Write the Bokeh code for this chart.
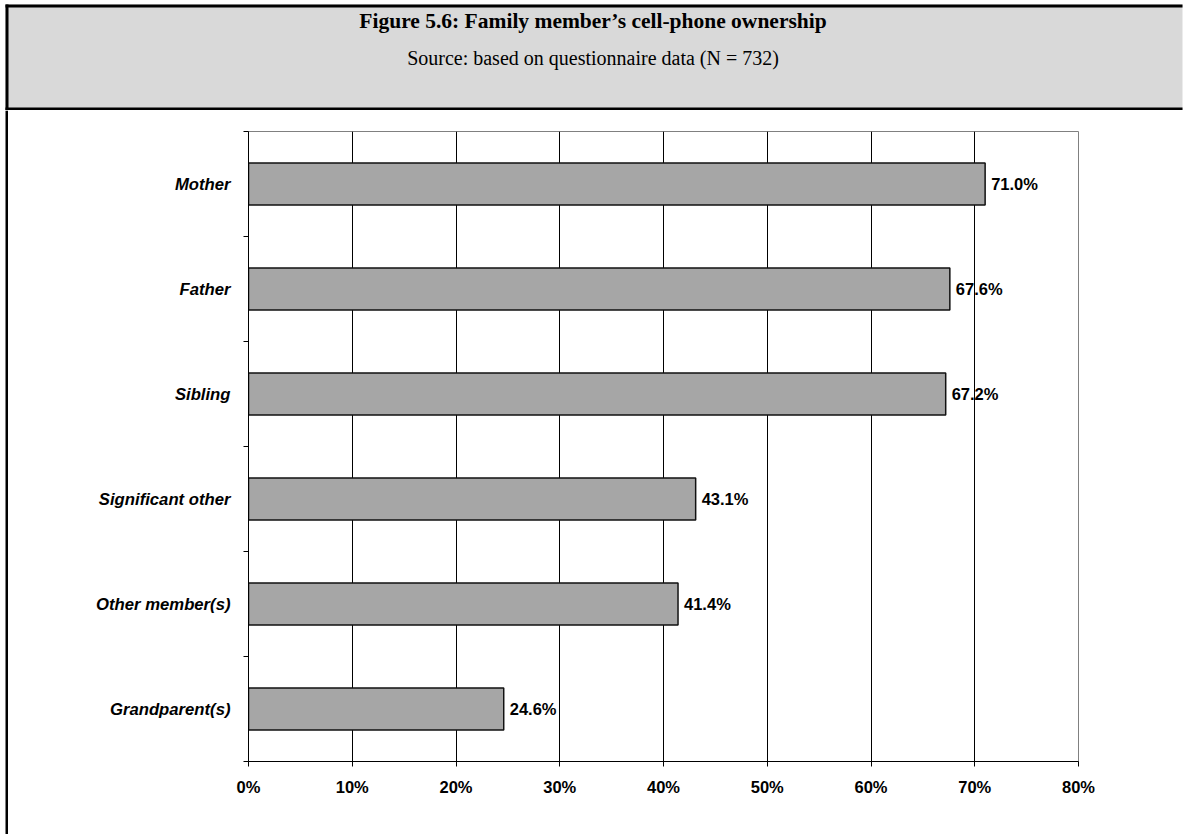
from bokeh.plotting import figure
from bokeh.models import Range1d, FixedTicker, ColumnDataSource, PrintfTickFormatter, LabelSet
from bokeh.layouts import column, row
from bokeh.core.properties import value
from bokeh.embed import file_html
from bokeh.resources import INLINE

# ---- data ----
categories = ["Mother", "Father", "Sibling", "Significant other", "Other member(s)", "Grandparent(s)"]
values = [71.0, 67.6, 67.2, 43.1, 41.4, 24.6]
x_ticks = [0, 10, 20, 30, 40, 50, 60, 70, 80]
title_text = "Figure 5.6: Family member\u2019s cell-phone ownership"
subtitle_text = "Source: based on questionnaire data (N = 732)"

# ---- layout constants ----
W, H = 1185, 834
HEAD_H = 110
SPACER_W = 8
SANS = "Liberation Sans"
SERIF = "Liberation Serif"
PANEL = "#d9d9d9"
EDGE = W - 3

n = len(categories)
ypos = [n - 0.5 - i for i in range(n)]
src = ColumnDataSource(dict(cat=categories, val=values, y=ypos,
                            lab=[f"{v:.1f}%" for v in values]))

# ---- header box ----
header = figure(width=W, height=HEAD_H, x_range=Range1d(0, W), y_range=Range1d(HEAD_H, 0),
                output_backend="svg", toolbar_location=None, x_axis_type=None, y_axis_type=None,
                min_border=0, min_border_left=0, min_border_right=0, min_border_top=0, min_border_bottom=0,
                frame_align=False)
header.outline_line_color = None
header.background_fill_color = "white"
header.border_fill_color = "white"
header.quad(left=[5], right=[EDGE], top=[4], bottom=[110], fill_color=PANEL, line_color=None)
header.quad(left=[5, 5, 5], right=[EDGE, EDGE, 8], top=[4, 107, 4], bottom=[7, 110, 110],
            fill_color="black", line_color=None)
header.text(x=[W / 2], y=[20], text=[title_text], text_font=value(SERIF), text_font_style="bold",
            text_font_size="21.5px", text_align="center", text_baseline="middle", text_color="black")
header.text(x=[W / 2], y=[57], text=[subtitle_text], text_font=value(SERIF),
            text_font_size="20px", text_align="center", text_baseline="middle", text_color="black")

# ---- left border continuation ----
spacer = figure(width=SPACER_W, height=H - HEAD_H, x_range=Range1d(0, SPACER_W),
                y_range=Range1d(0, H - HEAD_H), output_backend="svg", toolbar_location=None,
                x_axis_type=None, y_axis_type=None,
                min_border=0, min_border_left=0, min_border_right=0, min_border_top=0, min_border_bottom=0,
                frame_align=False)
spacer.outline_line_color = None
spacer.background_fill_color = "white"
spacer.border_fill_color = "white"
spacer.quad(left=5, right=8, bottom=0, top=H - HEAD_H, fill_color="black", line_color=None)

# ---- main chart ----
p = figure(width=W - SPACER_W, height=H - HEAD_H, x_range=Range1d(0, 80), y_range=Range1d(0, n),
           output_backend="svg", toolbar_location=None,
           min_border_left=240, min_border_right=107, min_border_top=21, min_border_bottom=73,
           frame_align=False)
p.background_fill_color = "white"
p.border_fill_color = "white"
p.outline_line_color = "#808080"
p.outline_line_width = 1

p.hbar(y="y", left=0, right="val", height=0.4, source=src,
       fill_color="#a6a6a6", line_color="#111111", line_width=1.5)

p.add_layout(LabelSet(x="val", y="y", text="lab", source=src, x_offset=6,
                      text_baseline="middle", text_align="left", text_font=value(SANS),
                      text_font_style="bold", text_font_size="16.5px", text_color="black"))

p.xaxis.ticker = FixedTicker(ticks=x_ticks)
p.xaxis.formatter = PrintfTickFormatter(format="%d%%")
p.xaxis.major_tick_out = 5
p.xaxis.major_tick_in = 0
p.xaxis.minor_tick_out = 0
p.xaxis.minor_tick_in = 0
p.xaxis.axis_line_color = "black"
p.xaxis.major_tick_line_color = "black"
p.xaxis.major_label_text_font = SANS
p.xaxis.major_label_text_font_style = "bold"
p.xaxis.major_label_text_font_size = "16.5px"
p.xaxis.major_label_text_color = "black"
p.xaxis.major_label_standoff = 11

p.xgrid.ticker = FixedTicker(ticks=x_ticks)
p.xgrid.grid_line_color = "black"
p.xgrid.grid_line_width = 1
p.ygrid.visible = False

p.yaxis.ticker = FixedTicker(ticks=ypos, minor_ticks=list(range(n + 1)))
p.yaxis.major_label_overrides = {y: c for y, c in zip(ypos, categories)}
p.yaxis.major_tick_out = 0
p.yaxis.major_tick_in = 0
p.yaxis.minor_tick_out = 5
p.yaxis.minor_tick_in = 0
p.yaxis.axis_line_color = "black"
p.yaxis.minor_tick_line_color = "black"
p.yaxis.major_label_text_font = SANS
p.yaxis.major_label_text_font_style = "bold italic"
p.yaxis.major_label_text_font_size = "16.7px"
p.yaxis.major_label_text_color = "black"
p.yaxis.major_label_standoff = 13

layout = column(header, row(spacer, p, spacing=0), spacing=0)

open("out.html", "w").write(file_html(layout, INLINE))
